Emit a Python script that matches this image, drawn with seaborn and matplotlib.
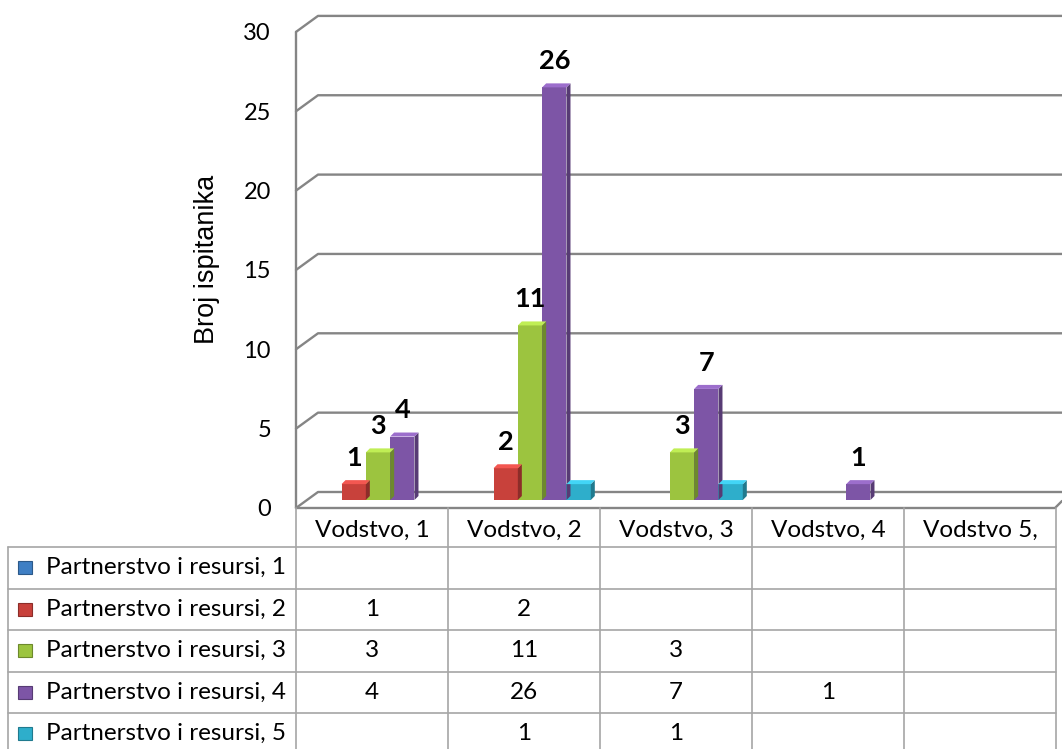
import matplotlib
matplotlib.use("Agg")
import matplotlib.pyplot as plt
import matplotlib.colors as mcolors
from matplotlib.lines import Line2D
from matplotlib.patches import Polygon, Rectangle
from matplotlib.transforms import Affine2D
import seaborn as sns
import pandas as pd
import numpy as np

# data
categories = ["Vodstvo, 1", "Vodstvo, 2", "Vodstvo, 3", "Vodstvo, 4", "Vodstvo 5,"]
series = ["Partnerstvo i resursi, 1", "Partnerstvo i resursi, 2", "Partnerstvo i resursi, 3",
          "Partnerstvo i resursi, 4", "Partnerstvo i resursi, 5"]
pr1 = [None, None, None, None, None]
pr2 = [1, 2, None, None, None]
pr3 = [3, 11, 3, None, None]
pr4 = [4, 26, 7, 1, None]
pr5 = [None, 1, 1, None, None]
values = [pr1, pr2, pr3, pr4, pr5]
labelled = series[1:4]   # the cyan series has no data labels in the original
yticks = [0, 5, 10, 15, 20, 25, 30]
ylabel = "Broj ispitanika"
colors = ["#3F7FC4", "#C8413B", "#9CC43F", "#7D55A6", "#2EAECB"]

rows = []
for s, vals in zip(series, values):
    for c, v in zip(categories, vals):
        if v is not None:
            rows.append([c, s, v])
df = pd.DataFrame(rows, columns=["kategorija", "serija", "broj"])

sns.set_style("white")
plt.rcParams["font.family"] = ["Lato", "DejaVu Sans"]
plt.rcParams["text.color"] = "black"
plt.rcParams["axes.labelcolor"] = "black"
plt.rcParams["ytick.color"] = "black"

W, H = 1062, 749
UNIT = 15.87          # px per respondent
COL = 152             # px per category column
FS = 17.5             # table / axis text size
fig = plt.figure(figsize=(W / 100, H / 100), dpi=100)
pix = Affine2D().scale(1 / W, -1 / H).translate(0, 1) + fig.transFigure

ax = fig.add_axes([296 / W, 1 - 508 / H, 766 / W, 492 / H])
ax.set_facecolor("none")
sns.barplot(data=df, x="kategorija", y="broj", hue="serija", order=categories,
            hue_order=series, palette=colors, saturation=1, width=0.8,
            errorbar=None, legend=False, ax=ax, linewidth=0)

x0 = -0.5 - 6 / COL
ax.set_xlim(x0, x0 + 766 / COL)
ax.set_ylim(-8 / UNIT, 484 / UNIT)
sns.despine(ax=ax, left=True, bottom=True)
ax.set_xticks([])
ax.set_xlabel("")
ax.set_yticks([v - 8 / UNIT for v in yticks], labels=[str(v) for v in yticks])
ax.tick_params(axis="y", length=0, pad=18, labelsize=17, labelcolor="black")
ax.set_ylabel(ylabel, fontsize=19.5, family=["Liberation Sans"], color="black")
ax.yaxis.set_label_coords((207 - 296) / 766, (508 - 259) / 492)
ax.yaxis.label.set_verticalalignment("center")

# 3d-ish walls and gridlines
grid = "#858585"
for v in yticks:
    yb = 492 - v * UNIT
    yf = 508 - v * UNIT
    fig.add_artist(Line2D([296, 318, 1062], [yf, yb, yb], transform=pix,
                          color=grid, lw=1.7, zorder=-1))
fig.add_artist(Line2D([296, 296], [508, 508 - 30 * UNIT], transform=pix,
                      color=grid, lw=1.7, zorder=-1))
fig.add_artist(Line2D([296, 1055, 1062], [508, 508, 501], transform=pix,
                      color=grid, lw=1.7, zorder=-1))

# bar depth, top face and labels
ddx, ddy = 4 / COL, 4 / UNIT
for patch in list(ax.patches):
    h = patch.get_height()
    if not np.isfinite(h) or h <= 0:
        continue
    x, w = patch.get_x(), patch.get_width()
    fc = np.array(mcolors.to_rgb(patch.get_facecolor()))
    side = fc * 0.7
    top = np.clip(fc * 1.15 + 0.05, 0, 1)
    ax.add_patch(Polygon([(x + w, 0), (x + w + ddx, ddy), (x + w + ddx, h + ddy), (x + w, h)],
                         closed=True, facecolor=side, edgecolor="none"))
    ax.add_patch(Polygon([(x, h), (x + w, h), (x + w + ddx, h + ddy), (x + ddx, h + ddy)],
                         closed=True, facecolor=top, edgecolor="none"))
    idx = [i for i, c in enumerate(colors) if np.allclose(fc, mcolors.to_rgb(c), atol=0.01)]
    if idx and series[idx[0]] in labelled:
        ax.annotate(f"{int(h)}", (x + w / 2, h), xytext=(0, 19), textcoords="offset points",
                    ha="center", va="center", fontsize=19.5, fontweight="bold")

# data table
line_c = "#a6a6a6"
col_x = [296 + COL * k for k in range(6)]
row_y = [547 + 41.5 * k for k in range(5)]
for xv in col_x:
    fig.add_artist(Line2D([xv, xv], [508, 749], transform=pix, color=line_c, lw=1.2))
fig.add_artist(Line2D([8, 8], [547, 749], transform=pix, color=line_c, lw=1.2))
for yv in row_y:
    fig.add_artist(Line2D([8, col_x[-1]], [yv, yv], transform=pix, color=line_c, lw=1.2))

for k, c in enumerate(categories):
    fig.text(col_x[k] + COL / 2, 530, c, transform=pix, ha="center", va="center", fontsize=FS)

for r, (s, vals, colr) in enumerate(zip(series, values, colors)):
    yc = row_y[r] + 20.75
    base = np.array(mcolors.to_rgb(colr))
    fig.add_artist(Rectangle((18, yc - 6.5), 14, 13, transform=pix, facecolor=base,
                             edgecolor=base * 0.7, lw=0.8))
    fig.text(46, yc, s, transform=pix, ha="left", va="center", fontsize=FS)
    for k, v in enumerate(vals):
        if v is not None:
            fig.text(col_x[k] + COL / 2, yc, str(v), transform=pix, ha="center",
                     va="center", fontsize=FS)

fig.savefig("out.png", dpi=100)
